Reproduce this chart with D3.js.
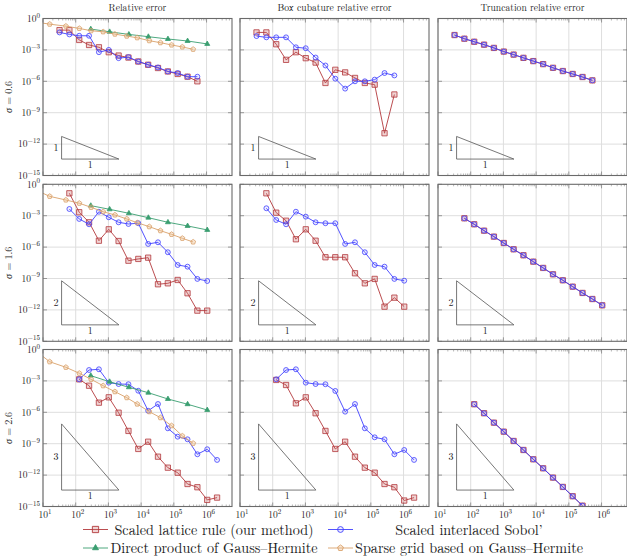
<!DOCTYPE html>
<html>
<head>
<meta charset="utf-8">
<script src="https://cdn.jsdelivr.net/npm/d3@7"></script>
<style>
  body { margin: 0; background: #fff; }
</style>
</head>
<body>
<div id="chart"></div>
<script>
// column titles and row labels
const colTitles = ["Relative error", "Box cubature relative error", "Truncation relative error"];
const sigmas = ["0.6", "1.6", "2.6"];
const slopes = ["1", "2", "3"];

// number of points per row for the lattice / Sobol' rules (2^5.. , 2^6.., 2^7..)
const qmcN = [
  [32, 64, 128, 256, 512, 1024, 2048, 4096, 8192, 16384, 32768, 65536, 131072, 262144, 524288],
  [64, 128, 256, 512, 1024, 2048, 4096, 8192, 16384, 32768, 65536, 131072, 262144, 524288, 1048576],
  [128, 256, 512, 1024, 2048, 4096, 8192, 16384, 32768, 65536, 131072, 262144, 524288, 1048576, 2097152],
];
const productN = [289, 1089, 4225, 16641, 66049, 263169, 1050625];
const sparseN = [4, 16, 50, 129, 295, 690, 1580, 3630, 7590, 17800, 38900, 85100, 182000, 389000];

// log10 of the errors, one array per row
// relative error (first column)
const latticeRel = [
  [-1.11, -1.11, -2.05, -2.53, -2.75, -3.22, -3.54, -3.73, -4.11, -4.42, -4.73, -5.06, -5.30, -5.56, -6.00],
  [-0.86, -2.67, -3.63, -5.39, -4.30, -5.42, -7.30, -7.13, -7.01, -9.55, -9.46, -9.14, -10.41, -12.07, -12.07],
  [-2.85, -3.46, -5.08, -4.57, -6.04, -7.78, -9.50, -8.81, -10.24, -11.29, -11.77, -12.85, -13.16, -14.37, -14.15],
];
const sobolRel = [
  [-1.33, -1.52, -1.65, -1.65, -3.22, -3.00, -3.79, -3.69, -4.11, -4.42, -4.68, -5.06, -5.21, -5.56, -5.56],
  [-2.36, -3.31, -3.82, -2.62, -3.15, -3.63, -3.79, -3.72, -5.70, -5.54, -6.49, -7.71, -7.87, -9.04, -9.24],
  [-2.85, -1.96, -1.89, -3.17, -3.30, -3.32, -3.94, -5.85, -5.21, -7.53, -8.33, -8.58, -10.01, -9.53, -10.55],
];
const productRel = [
  [-1.01, -1.27, -1.52, -1.74, -1.96, -2.15, -2.43],
  [-2.04, -2.39, -2.77, -3.19, -3.63, -3.98, -4.36],
  [-2.50, -3.08, -3.61, -4.13, -4.73, -5.23, -5.78],
];
const sparseRel = [
  [-0.25, -0.54, -0.73, -0.95, -1.17, -1.27, -1.49, -1.68, -1.84, -2.12, -2.31, -2.53, -2.72, -2.94],
  [-0.30, -1.15, -1.50, -1.81, -2.20, -2.62, -2.93, -3.31, -3.67, -4.05, -4.43, -4.78, -5.16, -5.51],
  [0.30, -1.17, -1.70, -2.27, -2.85, -3.46, -4.03, -4.60, -5.21, -5.94, -6.51, -7.28, -8.26, -8.96],
];
// box cubature relative error (second column)
const latticeBox = [
  [-1.33, -1.33, -2.46, -3.95, -3.22, -3.79, -4.21, -6.16, -4.90, -5.15, -5.68, -6.16, -6.32, -10.96, -7.26],
  [-0.86, -2.71, -3.48, -5.25, -4.30, -5.39, -6.97, -6.97, -6.97, -8.50, -9.46, -9.04, -11.69, -10.83, -11.69],
  [-2.91, -3.39, -5.14, -4.57, -6.09, -7.78, -9.50, -8.81, -10.24, -11.29, -11.77, -12.85, -13.16, -14.43, -14.15],
];
const sobolBox = [
  [-1.68, -1.80, -1.80, -1.80, -2.75, -2.84, -3.73, -4.49, -5.75, -6.70, -6.00, -6.00, -5.84, -5.21, -5.44],
  [-2.29, -3.41, -3.82, -2.62, -3.09, -3.63, -3.72, -3.72, -5.70, -5.54, -6.49, -7.71, -7.87, -9.04, -9.21],
  [-2.85, -1.96, -1.89, -3.17, -3.30, -3.32, -3.96, -5.94, -5.21, -7.53, -8.39, -8.58, -10.01, -9.60, -10.55],
];
// truncation relative error (third column, same for both rules)
const truncRel = [
  [-1.58, -1.93, -2.22, -2.50, -2.81, -3.16, -3.45, -3.76, -4.07, -4.36, -4.71, -5.02, -5.30, -5.59, -5.91],
  [-3.25, -3.82, -4.43, -5.00, -5.61, -6.21, -6.78, -7.39, -7.99, -8.60, -9.17, -9.78, -10.38, -10.96, -11.56],
  [-5.23, -6.09, -6.99, -7.85, -8.74, -9.60, -10.49, -11.35, -12.24, -13.13, -14.02, -14.92],
];

// slope triangles: x range and log10 y (bottom, top per row)
const triX = [37, 2090];
const triBottom = -13.43;
const triTop = [-11.27, -9.22, -7.11];

const xTickExp = [1, 2, 3, 4, 5, 6];
const yTickExp = [0, -3, -6, -9, -12, -15];

const legendLabels = [
  "Scaled lattice rule (our method)",
  "Scaled interlaced Sobol\u2019",
  "Direct product of Gauss\u2013Hermite",
  "Sparse grid based on Gauss\u2013Hermite",
];

const W = 627, H = 560;
const colX = [43, 240, 438];
const rowY = [18.5, 184.3, 349.5];
const pw = 189, ph = 157;
const font = "Latin Modern Roman, Liberation Serif, serif";

const x = d3.scaleLog().domain([10, 6e6]).range([0, pw]);
const y = d3.scaleLog().domain([1e-15, 1]).range([ph, 0]);
const e10 = (v) => Math.pow(10, v);

const pentagon = {
  draw(ctx, size) {
    const r = Math.sqrt(size / 2.38);
    for (let i = 0; i < 5; i++) {
      const a = -Math.PI / 2 + i * 2 * Math.PI / 5;
      if (i === 0) ctx.moveTo(r * Math.cos(a), r * Math.sin(a));
      else ctx.lineTo(r * Math.cos(a), r * Math.sin(a));
    }
    ctx.closePath();
  }
};

const styles = {
  lattice: { color: "#b3393c", fill: "rgba(205,110,110,0.3)", sym: d3.symbolSquare, size: 28 },
  sobol: { color: "#4040ff", fill: "rgba(140,140,255,0.15)", sym: d3.symbolCircle, size: 19 },
  product: { color: "#3a9e70", fill: "#3a9e70", sym: d3.symbolTriangle, size: 11 },
  sparse: { color: "#d9a16b", fill: "rgba(235,190,140,0.35)", sym: pentagon, size: 16 },
};

const svg = d3.select("#chart").append("svg")
  .attr("width", W).attr("height", H)
  .attr("viewBox", [0, 0, W, H]);

svg.append("defs").append("clipPath").attr("id", "plotclip")
  .append("rect").attr("width", pw).attr("height", ph);

function label(parent) {
  return parent.append("text").attr("font-family", font).attr("fill", "#1a1a1a");
}

function pow10(sel, exp, supSize, dy) {
  sel.append("tspan").text("10");
  sel.append("tspan").attr("dy", dy).attr("font-size", supSize)
    .text(exp < 0 ? "\u2212" + (-exp) : String(exp));
}

function drawSeries(g, key, ns, logs) {
  const st = styles[key];
  const pts = logs.map((v, i) => [x(ns[i]), y(e10(v))]);
  const sg = g.append("g").attr("clip-path", "url(#plotclip)");
  sg.append("path")
    .attr("d", d3.line()(pts))
    .attr("fill", "none")
    .attr("stroke", st.color)
    .attr("stroke-width", 0.9);
  sg.selectAll("path.m").data(pts).join("path")
    .attr("class", "m")
    .attr("transform", (d) => `translate(${d[0]},${d[1]})`)
    .attr("d", d3.symbol(st.sym, st.size))
    .attr("fill", st.fill)
    .attr("stroke", st.color)
    .attr("stroke-width", 0.8);
}

for (let r = 0; r < 3; r++) {
  for (let c = 0; c < 3; c++) {
    const g = svg.append("g").attr("transform", `translate(${colX[c]},${rowY[r]})`);

    // grid
    g.selectAll("line.gx").data(xTickExp).join("line")
      .attr("x1", (d) => x(e10(d))).attr("x2", (d) => x(e10(d)))
      .attr("y1", 0).attr("y2", ph)
      .attr("stroke", "#dedede").attr("stroke-width", 1);
    g.selectAll("line.gy").data(yTickExp.slice(1, -1)).join("line")
      .attr("x1", 0).attr("x2", pw)
      .attr("y1", (d) => y(e10(d))).attr("y2", (d) => y(e10(d)))
      .attr("stroke", "#dedede").attr("stroke-width", 1);

    // minor x ticks, top and bottom
    const minor = [];
    for (let k = 1; k <= 6; k++) for (let m = 2; m <= 9; m++) if (m * e10(k) < 6e6) minor.push(m * e10(k));
    [0, ph].forEach((yy) => {
      const dir = yy === 0 ? 1 : -1;
      g.append("g").selectAll("line").data(minor).join("line")
        .attr("x1", (d) => x(d)).attr("x2", (d) => x(d))
        .attr("y1", yy).attr("y2", yy + dir * 2)
        .attr("stroke", "#888").attr("stroke-width", 0.6);
      g.append("g").selectAll("line").data(xTickExp).join("line")
        .attr("x1", (d) => x(e10(d))).attr("x2", (d) => x(e10(d)))
        .attr("y1", yy).attr("y2", yy + dir * 4)
        .attr("stroke", "#777").attr("stroke-width", 0.7);
    });
    [0, pw].forEach((xx) => {
      const dir = xx === 0 ? 1 : -1;
      g.append("g").selectAll("line").data(yTickExp).join("line")
        .attr("x1", xx).attr("x2", xx + dir * 4)
        .attr("y1", (d) => y(e10(d))).attr("y2", (d) => y(e10(d)))
        .attr("stroke", "#777").attr("stroke-width", 0.7);
    });

    // slope triangle
    const tx0 = x(triX[0]), tx1 = x(triX[1]);
    const ty0 = y(e10(triBottom)), ty1 = y(e10(triTop[r]));
    g.append("path")
      .attr("d", `M${tx0},${ty1}L${tx0},${ty0}L${tx1},${ty0}Z`)
      .attr("fill", "none").attr("stroke", "#555").attr("stroke-width", 0.8);
    label(g).attr("x", tx0 - 3).attr("y", (ty0 + ty1) / 2 + 3.5)
      .attr("text-anchor", "end").attr("font-size", 10).text(slopes[r]);
    label(g).attr("x", (tx0 + tx1) / 2).attr("y", ty0 + 9)
      .attr("text-anchor", "middle").attr("font-size", 10).text("1");

    // data
    if (c === 0) {
      drawSeries(g, "lattice", qmcN[r], latticeRel[r]);
      drawSeries(g, "sobol", qmcN[r], sobolRel[r]);
      drawSeries(g, "product", productN, productRel[r]);
      drawSeries(g, "sparse", sparseN, sparseRel[r]);
    } else if (c === 1) {
      drawSeries(g, "lattice", qmcN[r], latticeBox[r]);
      drawSeries(g, "sobol", qmcN[r], sobolBox[r]);
    } else {
      drawSeries(g, "lattice", qmcN[r], truncRel[r]);
      drawSeries(g, "sobol", qmcN[r], truncRel[r]);
    }

    // frame
    g.append("rect").attr("width", pw).attr("height", ph)
      .attr("fill", "none").attr("stroke", "#6a6a6a").attr("stroke-width", 1.1);

    // y tick labels on first column
    if (c === 0) {
      yTickExp.forEach((e) => {
        const t = label(g).attr("x", -3).attr("y", y(e10(e)) + 3.3)
          .attr("text-anchor", "end").attr("font-size", 9.5);
        pow10(t, e, 7, -4.3);
      });
    }
    // x tick labels on last row
    if (r === 2) {
      xTickExp.forEach((e) => {
        const t = label(g).attr("x", x(e10(e)) + 2).attr("y", ph + 11.3)
          .attr("text-anchor", "middle").attr("font-size", 9.5);
        pow10(t, e, 7, -4.3);
      });
    }
    // column titles
    if (r === 0) {
      label(g).attr("x", pw / 2).attr("y", -8)
        .attr("text-anchor", "middle").attr("font-size", 9.6)
        .text(colTitles[c]);
    }
  }
  // row label
  const ly = label(svg)
    .attr("transform", `translate(12,${rowY[r] + ph / 2}) rotate(-90)`)
    .attr("text-anchor", "middle").attr("font-size", 10);
  ly.append("tspan").attr("font-style", "italic").text("\u03c3");
  ly.append("tspan").text(" = " + sigmas[r]);
}

// legend
const legendKeys = ["lattice", "sobol", "product", "sparse"];
const legSym = [83, 328];
const legText = [214, 469];
const legRow = [529.5, 548];
legendKeys.forEach((k, i) => {
  const st = styles[k];
  const col = i % 2, row = Math.floor(i / 2);
  const lg = svg.append("g").attr("transform", `translate(${legSym[col]},${legRow[row]})`);
  lg.append("line").attr("x1", 0).attr("x2", 25).attr("y1", 0).attr("y2", 0)
    .attr("stroke", st.color).attr("stroke-width", 0.9);
  lg.append("path").attr("transform", "translate(12.5,0)")
    .attr("d", d3.symbol(st.sym, st.size * 1.4))
    .attr("fill", st.fill).attr("stroke", st.color).attr("stroke-width", 0.9);
  label(svg).attr("x", legText[col]).attr("y", legRow[row] + 5)
    .attr("text-anchor", "middle").attr("font-size", 14.2)
    .text(legendLabels[i]);
});
</script>
</body>
</html>
